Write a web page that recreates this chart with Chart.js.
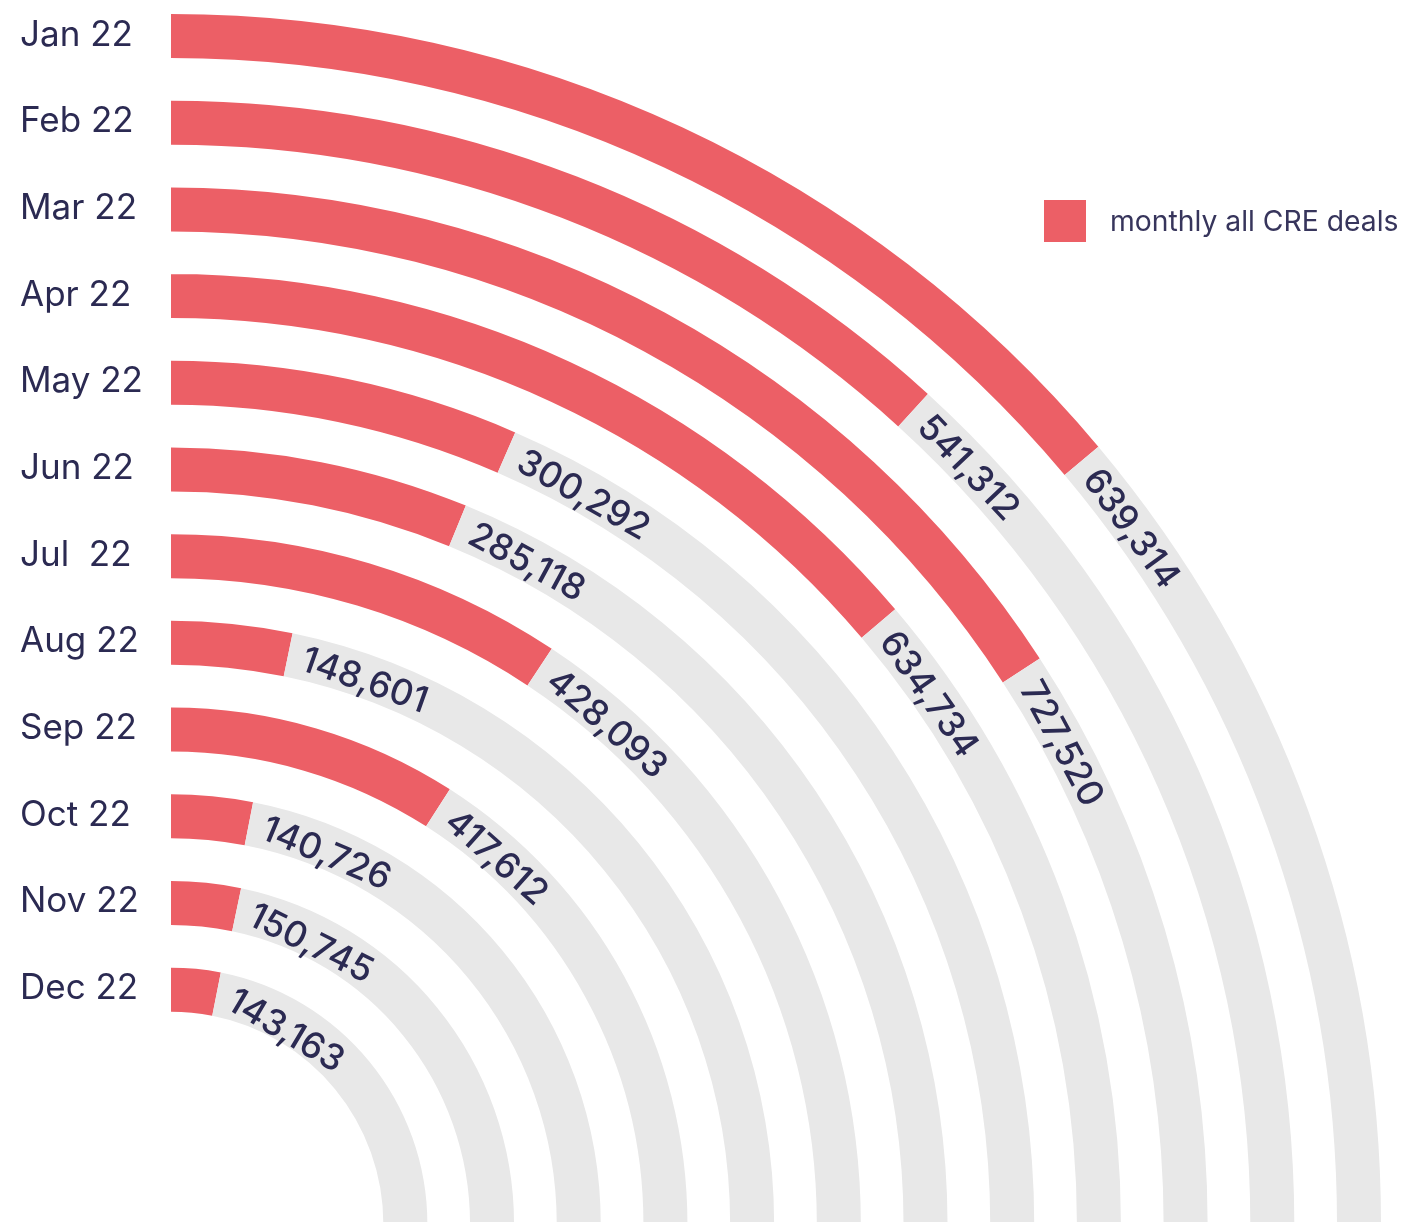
<!DOCTYPE html>
<html>
<head>
<meta charset="utf-8">
<script src="https://cdn.jsdelivr.net/npm/chart.js@4.4.1/dist/chart.umd.min.js"></script>
<style>
  html, body { margin: 0; padding: 0; background: #ffffff; overflow: hidden; }
  #wrap { width: 1405px; height: 1224px; position: relative; }
  canvas { display: block; }
</style>
</head>
<body>
<div id="wrap"><canvas id="c" width="1405" height="1224"></canvas></div>
<script>
// ---- data ----
const categories = ['Jan 22', 'Feb 22', 'Mar 22', 'Apr 22', 'May 22', 'Jun 22', 'Jul  22', 'Aug 22', 'Sep 22', 'Oct 22', 'Nov 22', 'Dec 22'];
const dealValues = [639314, 541312, 727520, 634734, 300292, 285118, 428093, 148601, 417612, 140726, 150745, 143163];
const trackMax = 1150000;
const seriesLabel = 'monthly all CRE deals';

// ---- styles ----
const RED = '#EC5F66';
const GRAY = '#E8E8E8';
const NAVY = '#2B2A52';
const RING_W = 44;
const GAP_W = 42.7;

const datasets = [];
categories.forEach((cat, i) => {
  if (i > 0) {
    datasets.push({ label: '_gap' + i, data: [1], backgroundColor: ['rgba(0,0,0,0)'], borderWidth: 0, weight: GAP_W, isGap: true });
  }
  datasets.push({
    label: cat,
    data: [dealValues[i], trackMax - dealValues[i]],
    backgroundColor: [RED, GRAY],
    borderWidth: 0,
    weight: RING_W,
    catIndex: i
  });
});

const labelPlugin = {
  id: 'radialLabels',
  afterDatasetsDraw(chart) {
    const ctx = chart.ctx;
    ctx.save();
    chart.data.datasets.forEach((ds, di) => {
      if (ds.isGap) return;
      const meta = chart.getDatasetMeta(di);
      const arc = meta.data[0];
      const p = arc.getProps(['x', 'y', 'startAngle', 'endAngle', 'innerRadius', 'outerRadius'], true);
      const rm = (p.innerRadius + p.outerRadius) / 2;
      // category label on the left
      ctx.font = '400 35px Inter, "Open Sans", sans-serif';
      ctx.fillStyle = NAVY;
      ctx.textAlign = 'left';
      ctx.textBaseline = 'middle';
      ctx.fillText(categories[ds.catIndex], 20, p.y - rm - 1);
      // value label along the chord after the bar end
      const txt = dealValues[ds.catIndex].toLocaleString('en-US');
      ctx.font = '500 36px Inter, "Open Sans", sans-serif';
      const w = ctx.measureText(txt).width;
      const a0 = p.endAngle + 15 / rm;
      const half = Math.asin(Math.min(1, w / (2 * rm)));
      const a1 = a0 + 2 * half;
      const x0 = p.x + rm * Math.cos(a0), y0 = p.y + rm * Math.sin(a0);
      const x1 = p.x + rm * Math.cos(a1), y1 = p.y + rm * Math.sin(a1);
      const mx = (x0 + x1) / 2, my = (y0 + y1) / 2;
      const rot = Math.atan2(y1 - y0, x1 - x0);
      ctx.save();
      ctx.translate(mx, my);
      ctx.rotate(rot);
      ctx.textAlign = 'center';
      ctx.textBaseline = 'middle';
      ctx.fillStyle = NAVY;
      ctx.fillText(txt, 0, 1);
      ctx.restore();
    });
    // legend
    ctx.fillStyle = RED;
    ctx.fillRect(1044, 200, 42, 42);
    ctx.font = '400 28.3px Inter, "Open Sans", sans-serif';
    ctx.fillStyle = '#37355C';
    ctx.textAlign = 'left';
    ctx.textBaseline = 'middle';
    ctx.fillText(seriesLabel, 1110, 222);
    ctx.restore();
  }
};

new Chart(document.getElementById('c'), {
  type: 'doughnut',
  data: { labels: ['deals', 'remaining'], datasets },
  options: {
    responsive: false,
    animation: false,
    events: [],
    rotation: 0,
    circumference: 90,
    cutout: '17.55%',
    layout: { padding: { left: 171, top: 14, right: 24, bottom: 0 } },
    plugins: { legend: { display: false }, tooltip: { enabled: false } }
  },
  plugins: [labelPlugin]
});
</script>
</body>
</html>
